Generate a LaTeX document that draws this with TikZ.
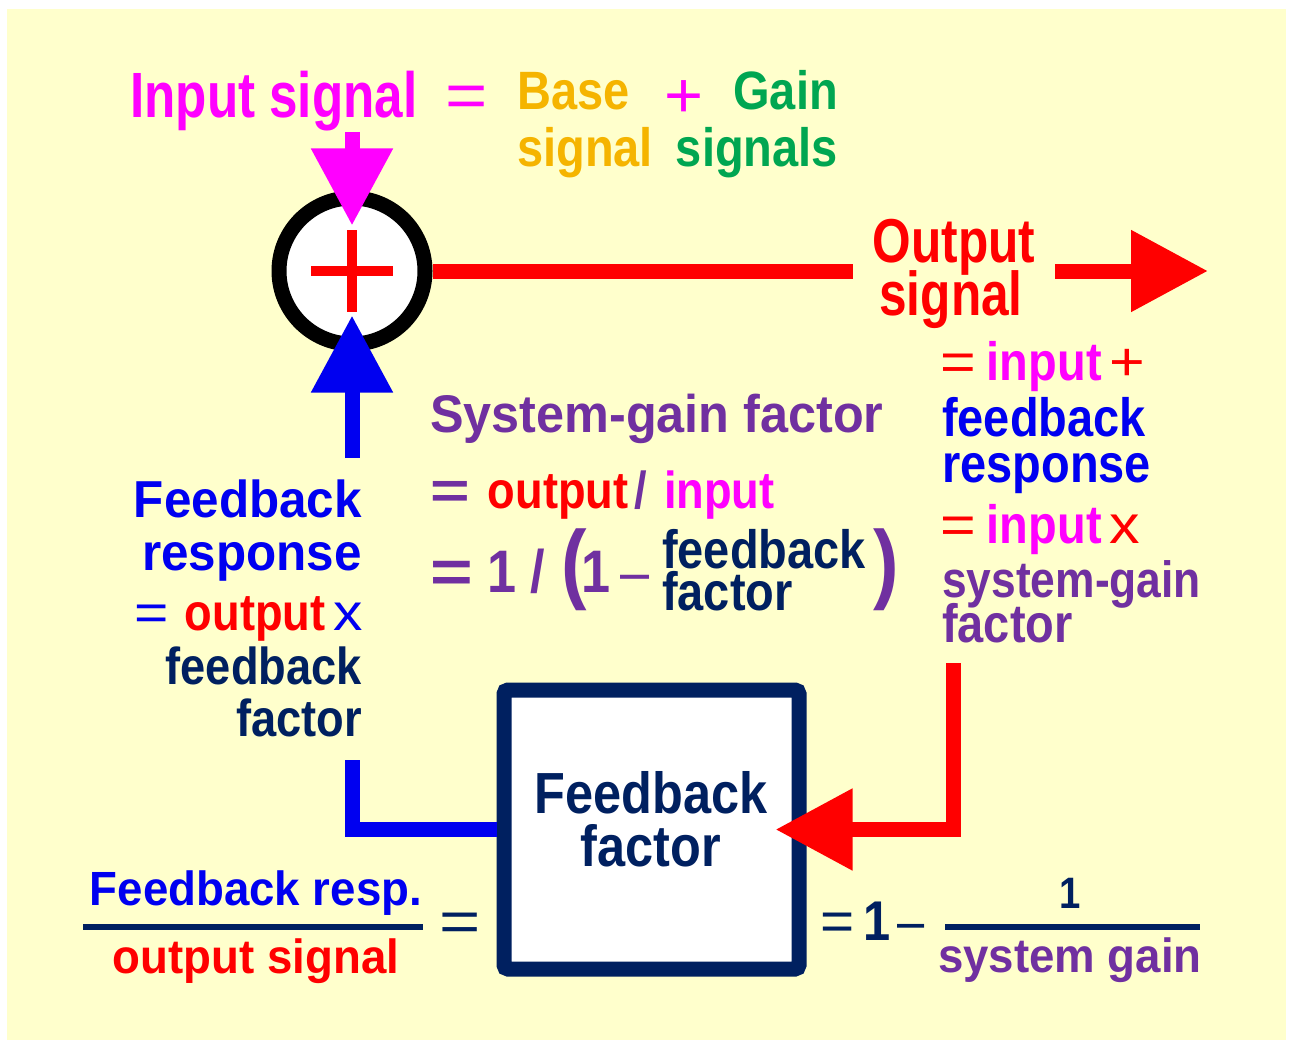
\documentclass[tikz,border=0pt]{standalone}
\usepackage{fontspec}
\usepackage{graphicx}
\setmainfont{Liberation Sans}
\newfontfamily\nsf{Liberation Sans}[FakeStretch=0.80]
\newfontfamily\msf{Liberation Sans}[FakeStretch=0.87]
\newfontfamily\wsf{Liberation Sans}[FakeStretch=0.95]
\usetikzlibrary{arrows.meta, positioning, calc}
\definecolor{bgyellow}{HTML}{FFFFCC}
\definecolor{sigmag}{HTML}{FF00FF}
\definecolor{outred}{HTML}{FF0000}
\definecolor{fbblue}{HTML}{0000F0}
\definecolor{navy}{HTML}{002060}
\definecolor{gainpurple}{HTML}{7030A0}
\definecolor{basegold}{HTML}{F5B400}
\definecolor{gaingreen}{HTML}{00A651}
% thin, widened operators
\newcommand\seq[1][1.3]{\scalebox{#1}[1]{\mdseries =}}
\newcommand\beq[1][1.4]{\scalebox{#1}[1]{=}}
\newcommand\sop[2][1.3]{\scalebox{#1}[1]{\mdseries #2}}
\newcommand\mns{{\mdseries\textendash}}
\tikzset{
  txt/.style 2 args={inner sep=0pt, font=#1\bfseries\fontsize{#2}{#2}\selectfont},
  sym/.style 2 args={inner sep=0pt, font=#1\mdseries\fontsize{#2}{#2}\selectfont},
  sumpt/.style={circle, draw=black, fill=white, line width=15pt,
    minimum size=146pt, inner sep=0pt},
  fbbox/.style={rectangle, draw=navy, fill=white, line width=15pt,
    rounded corners=4pt, minimum width=295pt, minimum height=279pt,
    inner sep=0pt},
  fat/.style={line width=15pt, -{Triangle[length=77pt, width=78pt]}},
  bar/.style={line width=15pt},
  rule/.style={navy, line width=6.5pt}
}

\begin{document}
\begin{tikzpicture}[x=1pt, y=-1pt]
  \useasboundingbox (0,0) rectangle (1291,1046);
  \fill[white] (0,0) rectangle (1291,1046);
  \fill[bgyellow] (7,9) rectangle (1286,1040);

  % Summing point
  \node[sumpt] (sum) at (352,271) {};
  \draw[outred, line width=10pt]
    ([yshift=41pt]sum.center) -- ([yshift=-41pt]sum.center);
  \draw[outred, line width=10pt]
    ([xshift=-41pt]sum.center) -- ([xshift=41pt]sum.center);

  % Input = base + gain
  \node[txt={\nsf}{64}, text=sigmag, anchor=base west] (inA) at (130,118) {Input signal};
  \node[sym={\msf}{64}, text=sigmag, anchor=base] (inEq) at (467,118) {\seq};
  \node[txt={\msf}{54}, text=basegold, anchor=base west] (baseA) at (517,110) {Base};
  \node[txt={\msf}{54}, text=basegold, anchor=base west] (baseB) at (517,167) {signal};
  \node[sym={\msf}{64}, text=sigmag, anchor=base] (inPlus) at (684,118) {\sop[1.2]{+}};
  \node[txt={\msf}{54}, text=gaingreen, anchor=base east] (gainA) at (838,110) {Gain};
  \node[txt={\msf}{54}, text=gaingreen, anchor=base east] (gainB) at (838,167) {signals};

  % Output label
  \node[txt={\nsf}{62}, text=outred, anchor=base, inner xsep=20pt] (outA) at (954,262) {Output};
  \node[txt={\nsf}{62}, text=outred, anchor=base] (outB) at (951,315) {signal};

  % Feedback block
  \node[fbbox] (fbox) at (651.5,829.5) {};
  \node[txt={\msf}{58}, text=navy, anchor=base] (fbA) at (651,813) {Feedback};
  \node[txt={\msf}{58}, text=navy, anchor=base] (fbB) at (651,866) {factor};

  % Signal paths
  \coordinate (fbTop) at (352,458);
  \coordinate (fbBot) at (352,760);
  \coordinate (rTop) at (953,663);
  \coordinate (outTip) at (1208,271);
  \draw[fat, sigmag] (inA.south -| sum.center) -- ([yshift=-35pt]sum.north);
  \draw[fat, fbblue] (fbTop) -- ([yshift=36pt]sum.south);
  \draw[bar, fbblue] (fbBot) |- (fbox.west);
  \draw[fat, outred] (rTop) |- ([xshift=-31pt]fbox.east);
  \draw[bar, outred] (sum.east) -- (sum.east -| outA.west);
  \draw[fat, outred] (sum.east -| outA.east) -- (outTip);

  % Feedback response
  \node[txt={\wsf}{52}, text=fbblue, anchor=base east] (lfA) at (362,517) {Feedback};
  \node[txt={\wsf}{52}, text=fbblue, anchor=base east] (lfB) at (362,570) {response};
  \node[txt={\msf}{52}, text=outred, anchor=base east] (lfC) at (363,630)
    {\textcolor{fbblue}{\seq}\hspace{16pt}output\hspace{8pt}\textcolor{fbblue}{\sop{x}}};
  \node[txt={\msf}{52}, text=navy, anchor=base east] (lfD) at (362,684) {feedback};
  \node[txt={\msf}{52}, text=navy, anchor=base east] (lfE) at (362,736) {factor};

  % System gain
  \node[txt={\wsf}{53}, text=gainpurple, anchor=base west] (sgA) at (430,432) {System-gain factor};
  \node[txt={\msf}{52}, text=outred, anchor=base west] (sgB) at (430,508)
    {\textcolor{gainpurple}{\beq[1.5]}\hspace{18pt}output\hspace{6pt}%
     \textcolor{gainpurple}{/}\hspace{17pt}\textcolor{sigmag}{input}};
  \node[txt={\msf}{60}, text=gainpurple, anchor=base west] (sgC) at (430,592)
    {\beq\hspace{15pt}1\hspace{14pt}/};
  \node[txt={\msf}{88}, text=gainpurple, anchor=base west] (lpar) at (561,592) {(};
  \node[txt={\msf}{60}, text=gainpurple, anchor=base west] (sgD) at (581,592)
    {1\hspace{10pt}\mns};
  \node[txt={\msf}{54}, text=navy, anchor=base west] (sgE) at (662,568) {feedback};
  \node[txt={\msf}{54}, text=navy, anchor=base west] (sgF) at (662,610) {factor};
  \node[txt={\msf}{88}, text=gainpurple, anchor=base west] (rpar) at (873,592) {)};

  % Output relations
  \node[txt={\msf}{54}, text=sigmag, anchor=base west] (rA) at (940,380)
    {\textcolor{outred}{\seq}\hspace{11pt}input\hspace{8pt}\textcolor{outred}{\sop{+}}};
  \node[txt={\msf}{54}, text=fbblue, anchor=base west] (rB) at (942,436) {feedback};
  \node[txt={\msf}{54}, text=fbblue, anchor=base west] (rC) at (942,482) {response};
  \node[txt={\msf}{54}, text=sigmag, anchor=base west] (rD) at (940,543)
    {\textcolor{outred}{\seq}\hspace{11pt}input\hspace{8pt}\textcolor{outred}{\sop{x}}};
  \node[txt={\msf}{51}, text=gainpurple, anchor=base west] (rE) at (942,597) {system-gain};
  \node[txt={\msf}{54}, text=gainpurple, anchor=base west] (rF) at (942,642) {factor};

  % Ratios under the block
  \node[txt={\wsf}{48}, text=fbblue, anchor=base] (frN) at (256,905) {Feedback resp.};
  \node[txt={\wsf}{48}, text=outred, anchor=base] (frD) at (256,973) {output signal};
  \draw[rule] (83,927) -- (423,927);
  \node[sym={\msf}{58}, text=navy, anchor=base] (frEq) at (460,941) {\seq[1.4]};
  \node[txt={\msf}{56}, text=navy, anchor=base west] (gnA) at (820,940)
    {\seq[1.2]\hspace{9pt}1\hspace{7pt}\mns};
  \draw[rule] (945,927) -- (1200,927);
  \node[txt={\msf}{44}, text=navy, anchor=base] (gnN) at (1070,908) {1};
  \node[txt={\wsf}{48}, text=gainpurple, anchor=base] (gnD) at (1070,972) {system gain};
\end{tikzpicture}
\end{document}
